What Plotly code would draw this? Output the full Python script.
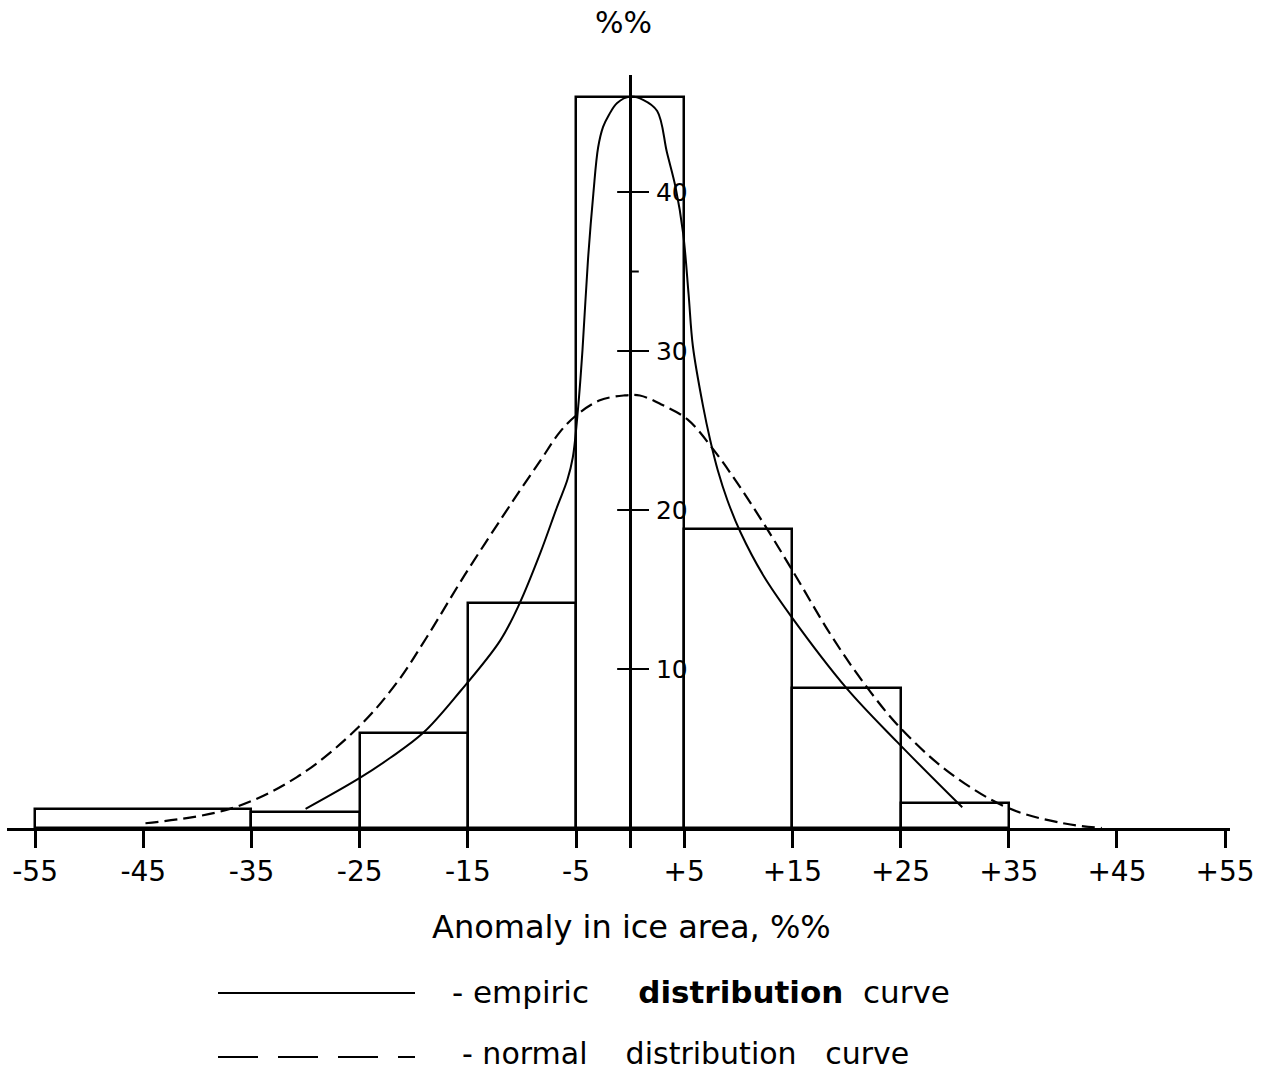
import plotly.graph_objects as go

# Histogram of ice-area anomalies: bin edges and relative frequency, %
bin_left = [-55, -35, -25, -15, -5, 5, 15, 25]
bin_right = [-35, -25, -15, -5, 5, 15, 25, 35]
freq = [1.2, 1.0, 6.0, 14.15, 46.0, 18.8, 8.8, 1.6]

# Empiric distribution curve
emp_x = [-30.0, -25.1, -22.2, -19.1, -15.7, -12.0, -10.2, -8.3, -6.75, -5.8, -5.3, -4.8,
         -4.4, -3.9, -3.4, -2.96, -2.5, -2.0, -1.2, 0.0, 1.2, 2.5, 3.4, 4.2, 4.9, 5.4,
         5.8, 6.75, 7.4, 8.1, 9.0, 10.2, 12.3, 14.9, 20.0, 24.7, 30.7]
emp_y = [1.2, 3.1, 4.4, 6.0, 8.6, 11.8, 14.15, 17.3, 20.2, 21.9, 23.3, 26.5,
         30.1, 35.7, 39.9, 42.8, 44.1, 44.8, 45.6, 46.0, 45.8, 45.1, 42.5, 40.3, 37.4, 33.6,
         30.3, 26.5, 24.4, 22.5, 20.6, 18.6, 15.9, 13.3, 8.8, 5.4, 1.3]

# Normal distribution curve
norm_x = [-44.8, -37.0, -30.8, -25.1, -21.5, -18.8, -15.3, -10.8, -8.3, -6.5, -4.9,
          -2.8, -0.6, 0.9, 3.0, 5.3, 7.7, 9.9, 12.3, 15.0, 18.5, 21.3, 24.7, 29.3,
          34.8, 40.0, 43.6]
norm_y = [0.3, 1.2, 3.2, 6.35, 9.2, 12.0, 15.9, 20.6, 23.1, 24.9, 26.0,
          26.9, 27.2, 27.2, 26.6, 25.7, 23.8, 21.7, 19.2, 16.2, 12.2, 9.4, 6.5, 3.6,
          1.3, 0.3, 0.0]

x_ticks = [-55, -45, -35, -25, -15, -5, 0, 5, 15, 25, 35, 45, 55]
x_tick_text = ["-55", "-45", "-35", "-25", "-15", "-5", "", "+5", "+15", "+25",
               "+35", "+45", "+55"]
y_ticks = [10, 20, 30, 40]
y_half_tick = 35

X_MIN, X_MAX = -57.6, 55.45
Y_MIN, Y_MAX = 0.0, 47.36

FONT = "DejaVu Sans"
INK = "black"

fig = go.Figure()

# histogram bars
centers = [(a + b) / 2 for a, b in zip(bin_left, bin_right)]
widths = [b - a for a, b in zip(bin_left, bin_right)]
fig.add_trace(go.Bar(
    x=centers, y=freq, width=widths,
    marker=dict(color="rgba(255,255,255,0)", line=dict(color=INK, width=2.5)),
    showlegend=False, hoverinfo="skip",
))

# curves
fig.add_trace(go.Scatter(
    x=emp_x, y=emp_y, mode="lines",
    line=dict(color=INK, width=2, shape="spline", smoothing=1.0),
    showlegend=False, hoverinfo="skip",
))
fig.add_trace(go.Scatter(
    x=norm_x, y=norm_y, mode="lines",
    line=dict(color=INK, width=2.2, shape="spline", smoothing=1.0, dash="13px,6px"),
    showlegend=False, hoverinfo="skip",
))

# left halves of the vertical-axis tick crosses, plus the short mark at 35
stub_x, stub_y = [], []
for v in y_ticks:
    stub_x += [-1.2, 0, None]
    stub_y += [v, v, None]
stub_x += [0, 0.8]
stub_y += [y_half_tick, y_half_tick]
fig.add_trace(go.Scatter(
    x=stub_x, y=stub_y, mode="lines", line=dict(color=INK, width=2),
    showlegend=False, hoverinfo="skip",
))

y_axis_pos = (0 - X_MIN) / (X_MAX - X_MIN)

fig.update_layout(
    width=1273, height=1072,
    margin=dict(l=7, r=43, t=75, b=244, pad=0),
    paper_bgcolor="white", plot_bgcolor="white",
    font=dict(family=FONT, color=INK),
    bargap=0,
    xaxis=dict(
        range=[X_MIN, X_MAX], showgrid=False, zeroline=False,
        showline=True, linecolor=INK, linewidth=2.5,
        ticks="outside", ticklen=17, tickwidth=2.5, tickcolor=INK,
        tickvals=x_ticks, ticktext=x_tick_text,
        tickfont=dict(family=FONT, size=28, color=INK),
        automargin=False, fixedrange=True,
    ),
    yaxis=dict(
        range=[Y_MIN, Y_MAX], showgrid=False, zeroline=False,
        anchor="free", position=y_axis_pos, side="right",
        showline=True, linecolor=INK, linewidth=2.5,
        ticks="outside", ticklen=17, tickwidth=2, tickcolor=INK,
        tickvals=y_ticks, ticklabelstandoff=2,
        tickfont=dict(family=FONT, size=25, color=INK),
        automargin=False, fixedrange=True,
    ),
)

# positions of text outside the plot area, in paper units
def px_x(p):
    return (p - 7) / 1223

def px_y(p):
    return (828 - p) / 753

# unit label at the top of the vertical axis
fig.add_annotation(
    x=-0.6, xref="x", y=px_y(22), yref="paper",
    text="%%", showarrow=False, font=dict(family=FONT, size=30, color=INK),
    xanchor="center", yanchor="middle",
)

# horizontal axis title
fig.add_annotation(
    x=px_x(631), xref="paper", y=px_y(927), yref="paper",
    text="Anomaly in ice area, %%", showarrow=False,
    font=dict(family=FONT, size=32, color=INK),
    xanchor="center", yanchor="middle",
)

# legend: long line samples with descriptions
fig.add_shape(type="line", xref="paper", yref="paper",
              x0=px_x(218), x1=px_x(415), y0=px_y(993), y1=px_y(993),
              line=dict(color=INK, width=2))
fig.add_shape(type="line", xref="paper", yref="paper",
              x0=px_x(218), x1=px_x(415), y0=px_y(1057), y1=px_y(1057),
              line=dict(color=INK, width=2, dash="40px,20px"))

nb = "\u00a0"
fig.add_annotation(
    x=px_x(450), xref="paper", y=px_y(992), yref="paper",
    text=f"-{nb}empiric{nb}{nb}{nb}{nb}{nb}<b>distribution</b>{nb}{nb}curve",
    showarrow=False, xanchor="left", yanchor="middle",
    font=dict(family=FONT, size=31, color=INK),
)
fig.add_annotation(
    x=px_x(460), xref="paper", y=px_y(1053), yref="paper",
    text=f"-{nb}normal{nb}{nb}{nb}{nb}distribution{nb}{nb}{nb}curve",
    showarrow=False, xanchor="left", yanchor="middle",
    font=dict(family=FONT, size=30, color=INK),
)

fig.write_html("out.html")
